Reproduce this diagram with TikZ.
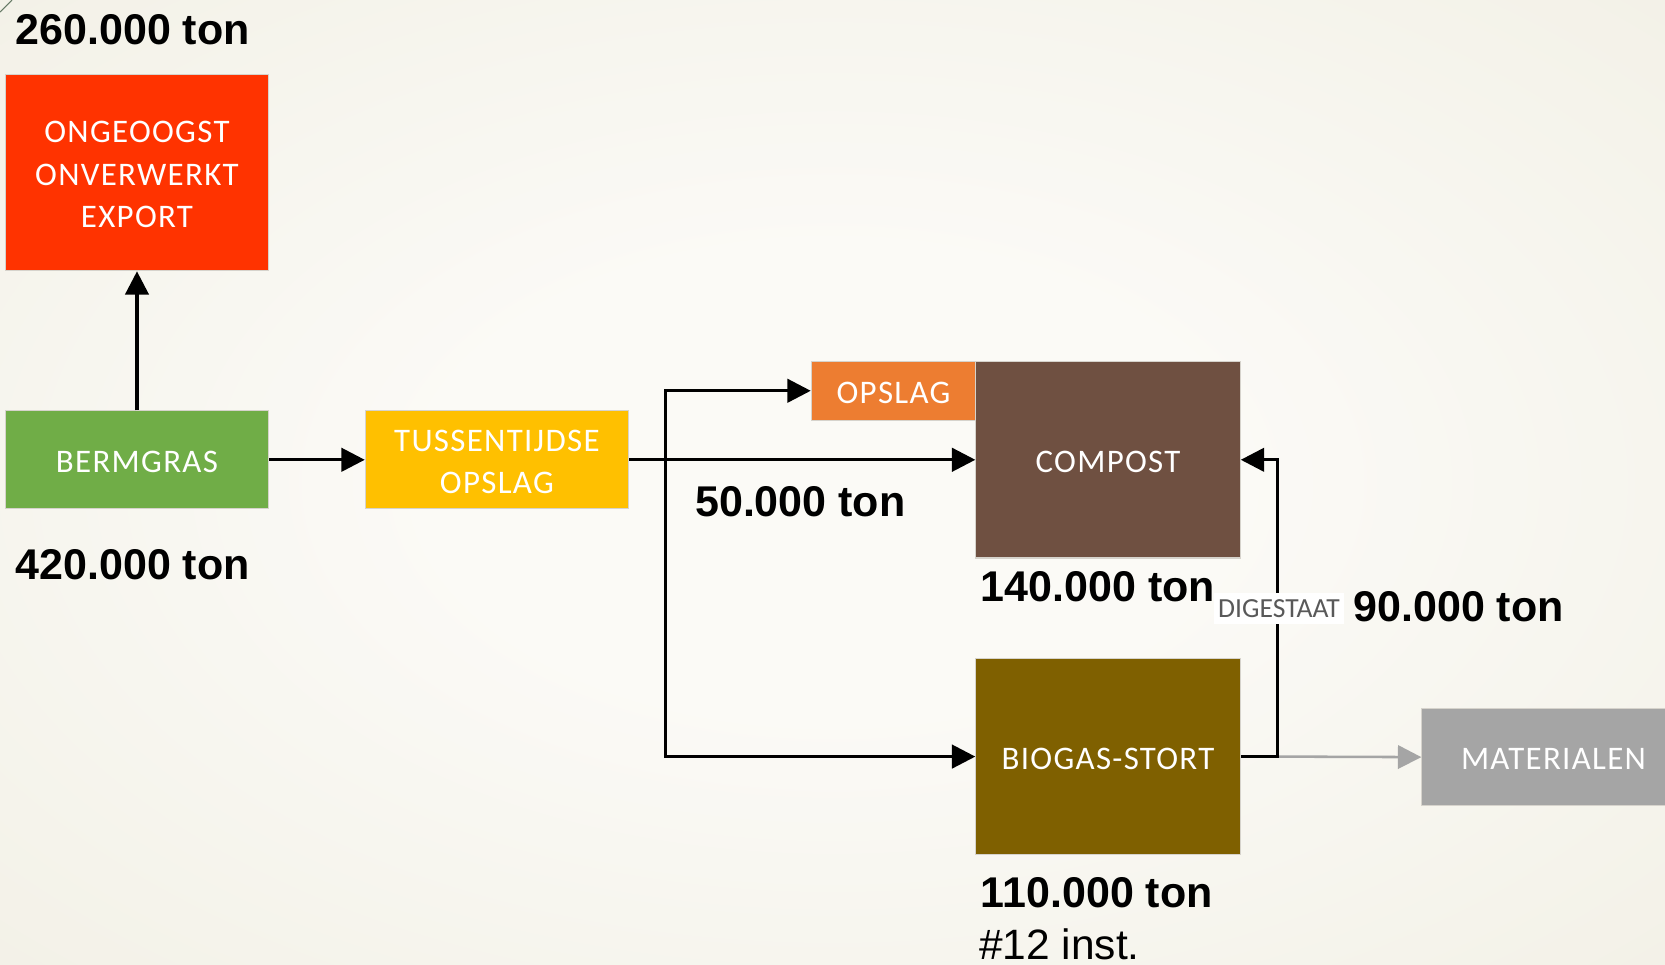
\documentclass[tikz,border=0pt]{standalone}
\usepackage{fontspec}
\usetikzlibrary{arrows.meta}
\newfontfamily\boxfont[LetterSpace=4]{Carlito}
\newfontfamily\tagfont{Carlito}
\newfontfamily\numfont{Liberation Sans}

\definecolor{bgin}{HTML}{FBFAF6}
\definecolor{bgout}{HTML}{E7E4D2}
\definecolor{cexport}{HTML}{FF3300}
\definecolor{cberm}{HTML}{70AD47}
\definecolor{ctus}{HTML}{FFC000}
\definecolor{cops}{HTML}{ED7D31}
\definecolor{ccomp}{HTML}{6F5041}
\definecolor{cbio}{HTML}{7F6000}
\definecolor{cmat}{HTML}{A5A5A5}
\definecolor{cedge}{HTML}{D6D3CC}
\definecolor{ctag}{HTML}{595959}
\definecolor{ccorner}{HTML}{667A66}

\pgfdeclareradialshading{slidebg}{\pgfpoint{0bp}{0bp}}{%
  color(0bp)=(bgin); color(12bp)=(bgin); color(70bp)=(bgout)}

% strut that lowers the first line of a box label slightly
\newcommand{\toprule}{\rule{0pt}{24pt}}

\tikzset{
  flowbox/.style={rectangle, draw=cedge, line width=1pt, inner sep=0pt,
    text=white, align=center,
    font=\boxfont\fontsize{31}{40}\selectfont},
  amount/.style={anchor=base west, inner sep=0pt,
    font=\numfont\bfseries\fontsize{40.5}{44}\selectfont},
  plain/.style={anchor=base west, inner sep=0pt,
    font=\numfont\fontsize{40}{44}\selectfont},
  flow/.style={line width=3.1pt, draw=black,
    -{Triangle[length=22pt,width=22pt]}},
  sideflow/.style={line width=2.4pt, draw=cmat,
    -{Triangle[length=22pt,width=22pt]}},
  tag/.style={fill=white, inner sep=0pt, minimum width=123pt,
    minimum height=30pt, text=ctag,
    font=\tagfont\fontsize{26}{28}\selectfont}
}

\begin{document}
\begin{tikzpicture}[x=1pt, y=-1pt]
  % frame and slide background
  \clip (0,0) rectangle (1568,908);
  \shade[shading=slidebg] (0,0) rectangle (1568,908);
  \draw[ccorner, line width=1pt] (0,11.3) -- (11.3,0);

  % process boxes
  \node[flowbox, fill=cexport, minimum width=248pt, minimum height=185pt]
    (exp) at (129,162.5) {\toprule ONGEOOGST\\ONVERWERKT\\EXPORT};
  \node[flowbox, fill=cberm, minimum width=248pt, minimum height=92pt]
    (berm) at (129,433) {\toprule BERMGRAS};
  \node[flowbox, fill=ctus, minimum width=248pt, minimum height=92pt]
    (tus) at (468,433) {\toprule TUSSENTIJDSE\\OPSLAG};
  \node[flowbox, fill=cops, minimum width=155pt, minimum height=56pt]
    (ops) at (841.5,368) {\toprule OPSLAG};
  \node[flowbox, fill=ccomp, minimum width=249pt, minimum height=185pt]
    (comp) at (1043.5,433) {\toprule COMPOST};
  \node[flowbox, fill=cbio, minimum width=249pt, minimum height=185pt]
    (bio) at (1043.5,712.5) {\toprule BIOGAS-STORT};
  \node[flowbox, fill=cmat, minimum width=248pt, minimum height=92pt]
    (mat) at (1463,713) {\toprule MATERIALEN};

  % branch points
  \coordinate (split) at (627,433);
  \coordinate (dig) at (1203,712.5);

  % connectors
  \draw[flow] (berm.north) -- (exp.south);
  \draw[flow] (berm.east) -- (tus.west);
  \draw[flow] (tus.east) -- (comp.west);
  \draw[flow] (split) |- (ops.west);
  \draw[flow] (split) |- (bio.west);
  \draw[sideflow] (dig) -- (mat.west);
  \draw[flow] (bio.east) -- (dig) |- (comp.east);

  \node[tag] (digtag) at (1204.5,573) {DIGESTAAT};

  % tonnages
  \node[amount] (t260) at (14.5,42) {260.000 ton};
  \node[amount] (t420) at (14.5,546) {420.000 ton};
  \node[amount] (t50) at (654.5,486) {50.000 ton};
  \node[amount] (t140) at (923.5,566) {140.000 ton};
  \node[amount] (t90) at (1274.5,585.5) {90.000 ton};
  \node[amount] (t110) at (923.5,855) {110.000 ton};
  \node[plain] (inst) at (922,903.5) {\#12 inst.};
\end{tikzpicture}
\end{document}
